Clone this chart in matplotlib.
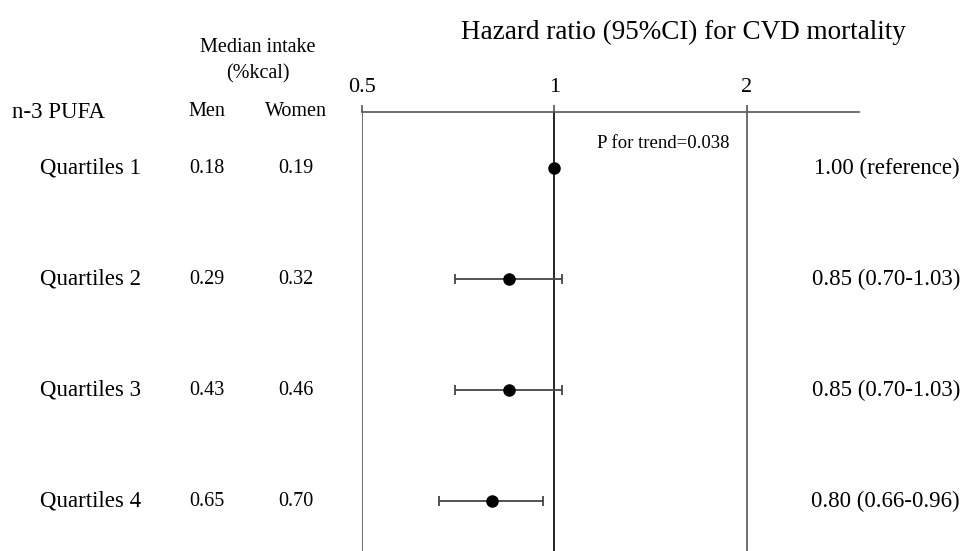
import matplotlib
matplotlib.use("Agg")
import matplotlib.pyplot as plt
import numpy as np

plt.rcParams['font.family'] = ['Liberation Serif', 'DejaVu Serif']

groups = ["Quartiles 1", "Quartiles 2", "Quartiles 3", "Quartiles 4"]
men_intake = ["0.18", "0.29", "0.43", "0.65"]
women_intake = ["0.19", "0.32", "0.46", "0.70"]
hr = [1.00, 0.85, 0.85, 0.80]
ci_low = [1.00, 0.70, 0.70, 0.66]
ci_high = [1.00, 1.03, 1.03, 0.96]
hr_text = ["1.00 (reference)", "0.85 (0.70-1.03)", "0.85 (0.70-1.03)", "0.80 (0.66-0.96)"]
ticks = [0.5, 1, 2]
tick_labels = ["0.5", "1", "2"]

W, H = 964, 551
fig = plt.figure(figsize=(W / 100, H / 100), dpi=100)


def fx(px):
    return px / W


def fy(py):
    return 1 - py / H


# forest panel: left edge at 0.5, top edge on the axis line
ax = fig.add_axes([fx(362), 0, fx(859) - fx(362), fy(112)])
ax.set_xscale('log', base=2)
ax.set_xlim(0.5, 3.0)
ax.set_ylim(3.45, -0.505)

rows = np.arange(len(groups))
err = [np.array(hr) - np.array(ci_low), np.array(ci_high) - np.array(hr)]
ax.errorbar(hr, rows, xerr=err, fmt='o', color='black', ecolor='#444444',
            elinewidth=1.3, capsize=3.5, capthick=1.3, markersize=8, zorder=3)

ax.axvline(1, color='black', lw=1.2, zorder=2)
for t in [0.5, 2]:
    ax.axvline(t, color='#555555', lw=1.2, zorder=2)

for s in ['left', 'right', 'bottom']:
    ax.spines[s].set_visible(False)
ax.spines['top'].set_color('#555555')
ax.spines['top'].set_linewidth(1.2)
ax.xaxis.set_ticks_position('top')
ax.set_xticks(ticks)
ax.set_xticklabels(tick_labels, fontsize=16)
ax.xaxis.set_minor_locator(matplotlib.ticker.NullLocator())
ax.tick_params(axis='x', direction='out', length=5, width=1.2, color='#555555', pad=6)
ax.set_yticks([])
ax.patch.set_alpha(0)

fig.text(fx(663), fy(143), "P for trend=0.038", fontsize=13.5, ha='center', va='center')

# headers
fig.text(fx(683), fy(32), "Hazard ratio (95%CI) for CVD mortality", fontsize=19.5,
         ha='center', va='center')
fig.text(fx(258), fy(48), "Median intake", fontsize=14.5, ha='center', va='center')
fig.text(fx(258), fy(74), "(%kcal)", fontsize=14.5, ha='center', va='center')
fig.text(fx(12), fy(112), "n-3 PUFA", fontsize=16.5, ha='left', va='center')
fig.text(fx(207), fy(112), "Men", fontsize=14.5, ha='center', va='center')
fig.text(fx(296), fy(112), "Women", fontsize=14.5, ha='center', va='center')

# table rows, placed on the same rows as the forest points
row_tr = matplotlib.transforms.blended_transform_factory(fig.transFigure, ax.transData)
for i in range(len(groups)):
    ax.text(fx(40), rows[i], groups[i], transform=row_tr, fontsize=16.5, ha='left', va='center')
    ax.text(fx(207), rows[i], men_intake[i], transform=row_tr, fontsize=14.5, ha='center', va='center')
    ax.text(fx(296), rows[i], women_intake[i], transform=row_tr, fontsize=14.5, ha='center', va='center')
    ax.text(fx(960), rows[i], hr_text[i], transform=row_tr, fontsize=16.5, ha='right', va='center')

fig.savefig("out.png", dpi=100)
